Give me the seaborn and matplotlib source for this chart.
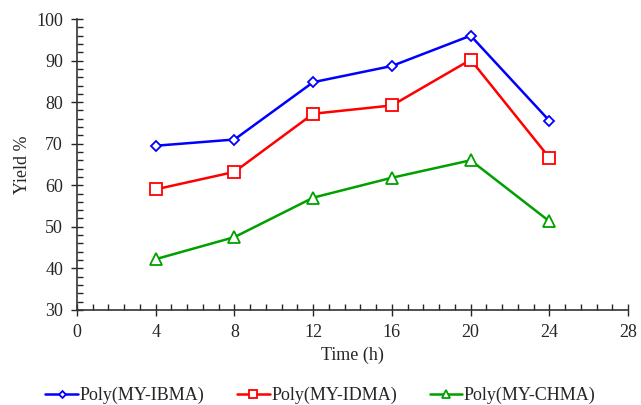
import matplotlib
matplotlib.use('Agg')
import matplotlib.pyplot as plt
import pandas as pd
import seaborn as sns
from matplotlib.ticker import MultipleLocator, AutoMinorLocator

time_h = [4, 8, 12, 16, 20, 24]
ibma = [69.5, 71.0, 84.8, 88.7, 96.0, 75.5]
idma = [59.0, 63.2, 77.2, 79.2, 90.2, 66.6]
chma = [42.2, 47.5, 57.0, 61.8, 66.0, 51.3]
names = ['Poly(MY-IBMA)', 'Poly(MY-IDMA)', 'Poly(MY-CHMA)']

sns.set_style('ticks')
plt.rcParams['font.family'] = ['Liberation Serif', 'DejaVu Serif']

df = pd.DataFrame({'Time': time_h * 3,
                   'Yield': ibma + idma + chma,
                   'Sample': [names[0]] * 6 + [names[1]] * 6 + [names[2]] * 6})

fig = plt.figure(figsize=(6.41, 4.05), dpi=100)
ax = fig.add_axes([0.12, 0.235, 0.86, 0.718])

colors = ['#0000ff', '#ff0000', '#00a000']
markers = ['D', 's', '^']
sizes = [5, 8, 8]
for name, c, m, s in zip(names, colors, markers, sizes):
    sub = df[df['Sample'] == name]
    sns.lineplot(data=sub, x='Time', y='Yield', ax=ax, color=c, marker=m,
                 markersize=s, markerfacecolor='white', markeredgecolor=c,
                 markeredgewidth=1.3, linewidth=1.8, label=name)

ax.set_xlim(0, 28)
ax.set_ylim(30, 100)
ax.xaxis.set_major_locator(MultipleLocator(4))
ax.yaxis.set_major_locator(MultipleLocator(10))
ax.xaxis.set_minor_locator(AutoMinorLocator(5))
ax.yaxis.set_minor_locator(AutoMinorLocator(5))
ax.tick_params(which='major', direction='inout', length=8, width=1, labelsize=13, pad=6)
ax.tick_params(which='minor', direction='in', length=4, width=1)
for sp in ['top', 'right']:
    ax.spines[sp].set_visible(False)
for sp in ['left', 'bottom']:
    ax.spines[sp].set_color('#333333')
    ax.spines[sp].set_linewidth(1.2)

ax.set_xlabel('Time (h)', fontsize=13)
ax.set_ylabel('Yield %', fontsize=13)

leg = ax.legend(loc='upper center', bbox_to_anchor=(0.442, -0.21), ncol=3,
                frameon=False, fontsize=13, markerscale=0.7, handlelength=1.8,
                handletextpad=0.1, columnspacing=1.8)

fig.savefig('out.png', dpi=100)
